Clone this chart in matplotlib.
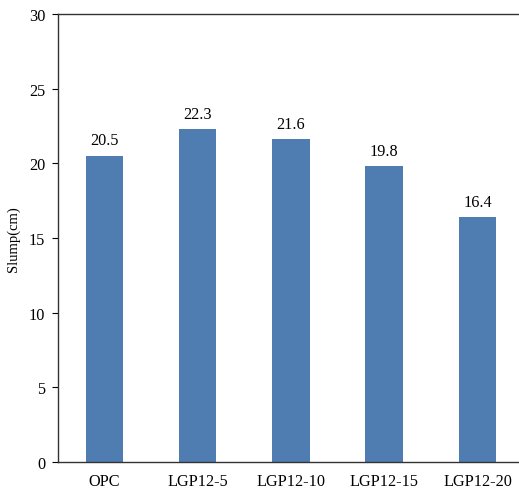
import matplotlib
matplotlib.use('Agg')
import matplotlib.pyplot as plt

# Slump values per mix
mixes = ['OPC', 'LGP12-5', 'LGP12-10', 'LGP12-15', 'LGP12-20']
slump = [20.5, 22.3, 21.6, 19.8, 16.4]
yticks = [0, 5, 10, 15, 20, 25, 30]

plt.rcParams['font.family'] = ['Liberation Serif', 'DejaVu Serif']

fig = plt.figure(figsize=(5.19, 4.89), dpi=100)
ax = fig.add_axes([0.111, 0.0532, 0.888, 0.9161])

x = range(len(mixes))
ax.bar(x, slump, width=0.4, color='#4F7DB2')

for i, v in zip(x, slump):
    ax.text(i, v + 0.5, f'{v}', ha='center', va='bottom', fontsize=11.7)

ax.set_xlim(-0.5, len(mixes) - 0.56)
ax.set_ylim(0, 30)
ax.set_yticks(yticks)
ax.set_xticks(list(x))
ax.set_xticklabels(mixes)
ax.tick_params(axis='y', direction='out', length=4, labelsize=11.7, width=0.8, pad=5)
ax.tick_params(axis='x', length=0, labelsize=11.7, pad=8)
ax.set_ylabel('Slump(cm)', fontsize=10.5, labelpad=6)

ax.spines['right'].set_visible(False)
for s in ['left', 'bottom', 'top']:
    ax.spines[s].set_color('#333333')
    ax.spines[s].set_linewidth(1.0)

fig.savefig('out.png', dpi=100)
